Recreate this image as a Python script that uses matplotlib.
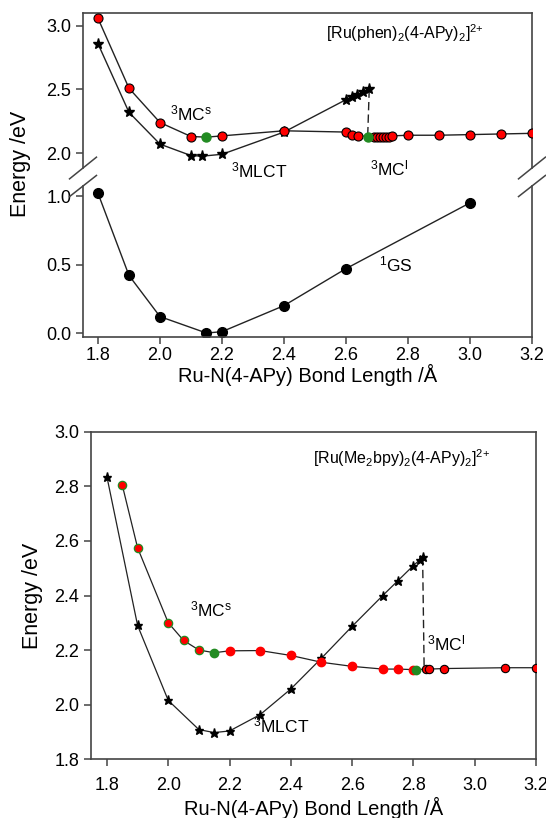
import numpy as np
import matplotlib
matplotlib.use("Agg")
import matplotlib.pyplot as plt

plt.rcParams['font.family'] = ['Liberation Sans', 'DejaVu Sans']
plt.rcParams['mathtext.fontset'] = 'custom'
plt.rcParams['mathtext.rm'] = 'Liberation Sans'
plt.rcParams['mathtext.it'] = 'Liberation Sans:italic'
plt.rcParams['mathtext.default'] = 'regular'

# ---- panel 1 : [Ru(phen)2(4-APy)2]2+ ----
mc_x_top = [1.8, 1.9, 2.0, 2.1, 2.15, 2.2, 2.4, 2.6, 2.62, 2.64, 2.67, 2.69, 2.70,
            2.71, 2.72, 2.73, 2.74, 2.75, 2.8, 2.9, 3.0, 3.1, 3.2]
mc_y_top = [3.06, 2.51, 2.24, 2.13, 2.125, 2.135, 2.175, 2.165, 2.145, 2.135, 2.13, 2.13, 2.13,
            2.13, 2.13, 2.13, 2.13, 2.135, 2.14, 2.14, 2.145, 2.15, 2.155]
mc_green_top = [4, 10]

mlct_x_top = [1.8, 1.9, 2.0, 2.1, 2.135, 2.2, 2.4, 2.6, 2.62, 2.635, 2.655, 2.675]
mlct_y_top = [2.86, 2.32, 2.07, 1.98, 1.975, 1.99, 2.165, 2.42, 2.44, 2.455, 2.48, 2.50]

gs_x = [1.8, 1.9, 2.0, 2.15, 2.2, 2.4, 2.6, 3.0]
gs_y = [1.02, 0.42, 0.12, 0.0, 0.01, 0.20, 0.47, 0.95]

drop_x_top = [2.675, 2.67]
drop_y_top = [2.50, 2.13]

# ---- panel 2 : [Ru(Me2bpy)2(4-APy)2]2+ ----
mlct_x_bot = [1.8, 1.9, 2.0, 2.1, 2.15, 2.2, 2.3, 2.4, 2.5, 2.6, 2.7, 2.75, 2.8, 2.82, 2.83]
mlct_y_bot = [2.835, 2.29, 2.015, 1.908, 1.897, 1.903, 1.963, 2.057, 2.17, 2.287, 2.40,
              2.455, 2.51, 2.53, 2.54]

mc_x_bot = [1.85, 1.9, 2.0, 2.05, 2.1, 2.15, 2.2, 2.3, 2.4, 2.5, 2.6, 2.7, 2.75, 2.8,
            2.81, 2.84, 2.85, 2.9, 3.1, 3.2]
mc_y_bot = [2.805, 2.575, 2.30, 2.235, 2.20, 2.19, 2.197, 2.198, 2.18, 2.155, 2.14, 2.13,
            2.13, 2.128, 2.128, 2.13, 2.13, 2.132, 2.135, 2.135]
# groups of points by marker style
mc_greenedge_bot = [0, 1, 2, 3, 4]
mc_green_bot = [5, 14]
mc_plain_bot = [6, 7, 8, 9, 10, 11, 12, 13]
mc_blackedge_bot = [15, 16, 17, 18, 19]

drop_x_bot = [2.83, 2.835]
drop_y_bot = [2.54, 2.13]

xticks = [1.8, 2.0, 2.2, 2.4, 2.6, 2.8, 3.0, 3.2]

RED = '#ff0000'
GREEN = '#228b22'
SPINE = '#444444'

fig = plt.figure(figsize=(5.46, 8.18), dpi=100)
ax_u = fig.add_axes([0.1520, 0.7946, 0.8223, 0.1895])
ax_l = fig.add_axes([0.1520, 0.5880, 0.8223, 0.1846])
ax_b = fig.add_axes([0.1667, 0.0721, 0.8150, 0.3998])


def style(ax):
    for s in ax.spines.values():
        s.set_color(SPINE)
        s.set_linewidth(1.2)
    ax.tick_params(direction='out', length=5, width=1.1, color=SPINE,
                   labelsize=13, top=False, right=False)


for ax in (ax_u, ax_l, ax_b):
    style(ax)

# upper part of top panel
ax_u.plot(mlct_x_top, mlct_y_top, color='#222222', lw=1.0, marker='*', ms=8,
          mfc='black', mec='black', zorder=3)
ax_u.plot(mc_x_top, mc_y_top, color='#222222', lw=1.0, zorder=3)
red_idx = [i for i in range(len(mc_x_top)) if i not in mc_green_top]
ax_u.plot([mc_x_top[i] for i in red_idx], [mc_y_top[i] for i in red_idx], ls='none',
          marker='o', ms=6.5, mfc=RED, mec='black', mew=0.8, zorder=4)
ax_u.plot([mc_x_top[i] for i in mc_green_top], [mc_y_top[i] for i in mc_green_top], ls='none',
          marker='o', ms=6.5, mfc=GREEN, mec=GREEN, zorder=5)
ax_u.plot(drop_x_top, drop_y_top, color='#222222', lw=1.0, dashes=(6, 3), zorder=2)
ax_u.set_xlim(1.7516, 3.2)
ax_u.set_ylim(1.882, 3.102)
ax_u.set_yticks([2.0, 2.5, 3.0])
ax_u.set_yticklabels(['2.0', '2.5', '3.0'])
ax_u.set_xticks([])
ax_u.spines['bottom'].set_visible(False)
ax_u.text(2.10, 2.31, r'$^3$MC$^s$', fontsize=12.5, ha='center', va='center')
ax_u.text(2.32, 1.86, r'$^3$MLCT', fontsize=12.5, ha='center', va='center')
ax_u.text(2.74, 1.88, r'$^3$MC$^l$', fontsize=12.5, ha='center', va='center')
ax_u.text(2.79, 2.94, r'[Ru(phen)$_2$(4-APy)$_2$]$^{2{+}}$', fontsize=11.5,
          ha='center', va='center')

# lower part of top panel
ax_l.plot(gs_x, gs_y, color='#222222', lw=1.0, marker='o', ms=7, mfc='black',
          mec='black')
ax_l.set_xlim(1.7516, 3.2)
ax_l.set_ylim(-0.029, 1.073)
ax_l.set_yticks([0.0, 0.5, 1.0])
ax_l.set_yticklabels(['0.0', '0.5', '1.0'])
ax_l.set_xticks(xticks)
ax_l.set_xticklabels(['%.1f' % v for v in xticks])
ax_l.tick_params(axis='x', pad=2.5)
ax_l.spines['top'].set_visible(False)
ax_l.text(2.76, 0.50, r'$^1$GS', fontsize=12.5, ha='center', va='center')
ax_l.set_xlabel('Ru-N(4-APy) Bond Length /Å', fontsize=14.5, labelpad=0)

# break marks
for ax, yy in ((ax_u, 0.0), (ax_l, 1.0)):
    for xx in (0.0, 1.0):
        ax.plot([xx - 0.03, xx + 0.03], [yy - 0.07, yy + 0.07], transform=ax.transAxes,
                color=SPINE, lw=1.1, clip_on=False)

fig.text(0.038, 0.80, 'Energy /eV', rotation=90, fontsize=15.5, ha='center', va='center')

# bottom panel
ax_b.plot(mlct_x_bot, mlct_y_bot, color='#222222', lw=0.9, marker='*', ms=6.5,
          mfc='black', mec='black', zorder=3)
ax_b.plot(mc_x_bot, mc_y_bot, color='#222222', lw=0.9, zorder=3)
ax_b.plot(drop_x_bot, drop_y_bot, color='#222222', lw=1.0, dashes=(6, 3), zorder=2)
ax_b.plot([mc_x_bot[i] for i in mc_greenedge_bot], [mc_y_bot[i] for i in mc_greenedge_bot],
          ls='none', marker='o', ms=6, mfc=RED, mec=GREEN, mew=0.9, zorder=4)
ax_b.plot([mc_x_bot[i] for i in mc_plain_bot], [mc_y_bot[i] for i in mc_plain_bot],
          ls='none', marker='o', ms=6, mfc=RED, mec=RED, zorder=4)
ax_b.plot([mc_x_bot[i] for i in mc_blackedge_bot], [mc_y_bot[i] for i in mc_blackedge_bot],
          ls='none', marker='o', ms=6, mfc=RED, mec='black', mew=0.8, zorder=4)
ax_b.plot([mc_x_bot[i] for i in mc_green_bot], [mc_y_bot[i] for i in mc_green_bot],
          ls='none', marker='o', ms=6, mfc=GREEN, mec=GREEN, zorder=5)
ax_b.set_xlim(1.748, 3.2)
ax_b.set_ylim(1.8, 3.0)
ax_b.set_xticks(xticks)
ax_b.set_xticklabels(['%.1f' % v for v in xticks])
ax_b.set_yticks([1.8, 2.0, 2.2, 2.4, 2.6, 2.8, 3.0])
ax_b.set_yticklabels(['1.8', '2.0', '2.2', '2.4', '2.6', '2.8', '3.0'])
ax_b.tick_params(axis='x', pad=8)
ax_b.text(2.14, 2.35, r'$^3$MC$^s$', fontsize=12.5, ha='center', va='center')
ax_b.text(2.37, 1.925, r'$^3$MLCT', fontsize=12.5, ha='center', va='center')
ax_b.text(2.845, 2.225, r'$^3$MC$^l$', fontsize=12.5, ha='left', va='center')
ax_b.text(2.76, 2.905, r'[Ru(Me$_2$bpy)$_2$(4-APy)$_2$]$^{2{+}}$', fontsize=11.5,
          ha='center', va='center')
ax_b.set_xlabel('Ru-N(4-APy) Bond Length /Å', fontsize=14.5, labelpad=2)
ax_b.set_ylabel('Energy /eV', fontsize=15.5, labelpad=8)

fig.savefig('out.png', dpi=100)
